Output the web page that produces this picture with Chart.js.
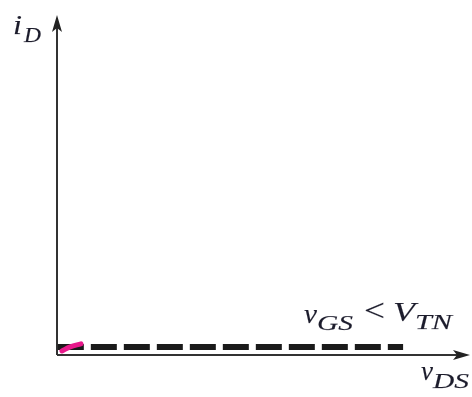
<!DOCTYPE html>
<html>
<head>
<meta charset="utf-8">
<script src="https://cdn.jsdelivr.net/npm/chart.js@4"></script>
<style>
  html, body { margin: 0; padding: 0; background: #fff; }
  #wrap { width: 472px; height: 397px; }
</style>
</head>
<body>
<div id="wrap"><canvas id="ivChart" width="472" height="397"></canvas></div>
<script>
// cutoff region: v_GS < V_TN, drain current stays ~0
const cutoffX = [0.02, 8.38];
const cutoffY = [0.235, 0.235];
// small magenta start segment near the origin
const startX = [0.12, 0.32, 0.58];
const startY = [0.12, 0.24, 0.33];

const xMax = 10;
const yMax = 10;

const toPoints = (xs, ys) => xs.map((x, i) => ({ x: x, y: ys[i] }));

// draw text squeezed/stretched to a given width (the book font is wider than Times)
function fitText(ctx, str, x, y, font, width) {
  ctx.font = font;
  const w = ctx.measureText(str).width;
  ctx.save();
  ctx.translate(x, y);
  ctx.scale(width / w, 1);
  ctx.fillText(str, 0, 0);
  ctx.strokeText(str, 0, 0);
  ctx.restore();
}

// axes with arrowheads + italic labels
const axesPlugin = {
  id: "axesPlugin",
  beforeDatasetsDraw(chart) {
    const ctx = chart.ctx;
    const x0 = chart.scales.x.getPixelForValue(0);
    const y0 = chart.scales.y.getPixelForValue(0);
    const xEnd = chart.scales.x.getPixelForValue(xMax);
    const yEnd = chart.scales.y.getPixelForValue(yMax);

    ctx.save();
    ctx.strokeStyle = "#333";
    ctx.fillStyle = "#222";
    ctx.lineWidth = 2;
    ctx.beginPath();
    ctx.moveTo(x0, y0);
    ctx.lineTo(xEnd - 8, y0);
    ctx.moveTo(x0, y0);
    ctx.lineTo(x0, yEnd + 8);
    ctx.stroke();

    // x arrow
    ctx.beginPath();
    ctx.moveTo(xEnd, y0);
    ctx.lineTo(xEnd - 17, y0 - 5);
    ctx.lineTo(xEnd - 13, y0);
    ctx.lineTo(xEnd - 17, y0 + 5);
    ctx.closePath();
    ctx.fill();
    // y arrow
    ctx.beginPath();
    ctx.moveTo(x0, yEnd);
    ctx.lineTo(x0 - 5, yEnd + 17);
    ctx.lineTo(x0, yEnd + 13);
    ctx.lineTo(x0 + 5, yEnd + 17);
    ctx.closePath();
    ctx.fill();
    ctx.restore();
  },
  afterDatasetsDraw(chart) {
    const ctx = chart.ctx;
    const x0 = chart.scales.x.getPixelForValue(0);
    const y0 = chart.scales.y.getPixelForValue(0);
    const xEnd = chart.scales.x.getPixelForValue(xMax);
    const yEnd = chart.scales.y.getPixelForValue(yMax);
    const big = "italic 28px 'Liberation Serif', serif";
    const small = "italic 20px 'Liberation Serif', serif";

    ctx.save();
    ctx.fillStyle = "#1c1c2c";
    ctx.strokeStyle = "rgba(28,28,44,0.5)";
    ctx.lineWidth = 0.25;
    ctx.textBaseline = "alphabetic";
    ctx.textAlign = "left";

    // i_D
    fitText(ctx, "i", x0 - 44, yEnd + 19, big, 9);
    fitText(ctx, "D", x0 - 33, yEnd + 27, small, 17);

    // v_DS
    fitText(ctx, "v", xEnd - 49, y0 + 25, big, 12);
    fitText(ctx, "DS", xEnd - 37, y0 + 33, small, 36);

    // v_GS < V_TN
    fitText(ctx, "v", xEnd - 166, y0 - 32, big, 13);
    fitText(ctx, "GS", xEnd - 153, y0 - 25, small, 36);
    fitText(ctx, "<", xEnd - 106, y0 - 34, "32px 'Liberation Serif', serif", 21);
    fitText(ctx, "V", xEnd - 77, y0 - 34, big, 22);
    fitText(ctx, "TN", xEnd - 55, y0 - 26, small, 37);
    ctx.restore();
  }
};

new Chart(document.getElementById("ivChart"), {
  type: "line",
  data: {
    datasets: [
      {
        label: "start",
        data: toPoints(startX, startY),
        borderColor: "#e8198b",
        borderWidth: 5,
        borderCapStyle: "round",
        tension: 0.4,
        pointRadius: 0,
        order: 0
      },
      {
        label: "cutoff",
        data: toPoints(cutoffX, cutoffY),
        borderColor: "#1a1a1a",
        borderWidth: 6,
        borderDash: [26, 7],
        borderCapStyle: "butt",
        pointRadius: 0,
        order: 1
      }
    ]
  },
  options: {
    responsive: false,
    animation: false,
    layout: { padding: { left: 57, right: 2, top: 15, bottom: 42 } },
    plugins: { legend: { display: false }, tooltip: { enabled: false } },
    scales: {
      x: { type: "linear", min: 0, max: xMax, display: false },
      y: { type: "linear", min: 0, max: yMax, display: false }
    }
  },
  plugins: [axesPlugin]
});
</script>
</body>
</html>
